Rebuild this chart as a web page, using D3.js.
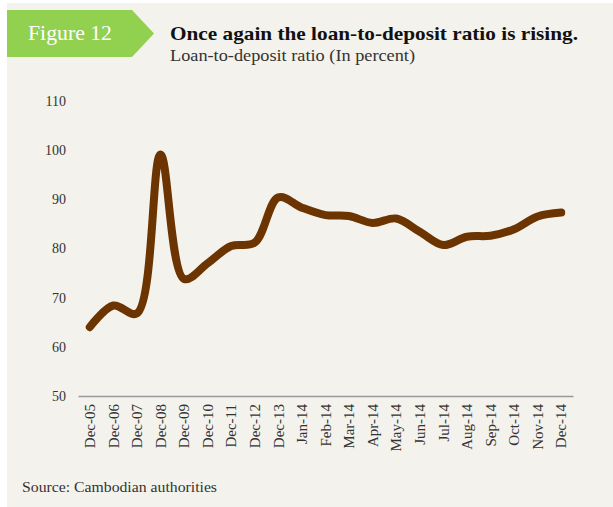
<!DOCTYPE html>
<html><head><meta charset="utf-8">
<script src="https://cdn.jsdelivr.net/npm/d3@7"></script>
<style>body{margin:0;background:#fff}svg{display:block}</style>
</head><body>
<script>
const categories = ["Dec-05","Dec-06","Dec-07","Dec-08","Dec-09","Dec-10","Dec-11","Dec-12","Dec-13","Jan-14","Feb-14","Mar-14","Apr-14","May-14","Jun-14","Jul-14","Aug-14","Sep-14","Oct-14","Nov-14","Dec-14"];
const ratio = [64.0,68.4,66.8,99.1,73.8,77.0,80.5,81.2,90.4,88.3,86.8,86.6,85.2,86.1,83.4,80.7,82.4,82.6,83.9,86.5,87.3];
const yTicks = [50,60,70,80,90,100,110];
const title = "Once again the loan-to-deposit ratio is rising.";
const subtitle = "Loan-to-deposit ratio (In percent)";
const figLabel = "Figure 12";
const source = "Source: Cambodian authorities";

const W = 613, H = 507;
const svg = d3.select("body").append("svg").attr("width", W).attr("height", H);
const font = "'Liberation Serif', 'DejaVu Serif', serif";
svg.append("rect").attr("x",7).attr("y",3).attr("width",W-7).attr("height",H-3).attr("fill","#f3f2ec");

// green tab
svg.append("path").attr("d","M7,10 L132,10 L154,33.5 L132,57 L7,57 Z").attr("fill","#92d050");
svg.append("text").attr("x",28).attr("y",40).attr("fill","#fff").attr("font-family",font).attr("font-size",20)
  .attr("textLength",84).attr("lengthAdjust","spacingAndGlyphs").text(figLabel);
svg.append("text").attr("x",170).attr("y",40).attr("fill","#111").attr("font-family",font).attr("font-size",19.5).attr("font-weight","bold")
  .attr("textLength",408).attr("lengthAdjust","spacingAndGlyphs").text(title);
svg.append("text").attr("x",170).attr("y",61).attr("fill","#333").attr("font-family",font).attr("font-size",16)
  .attr("textLength",245).attr("lengthAdjust","spacingAndGlyphs").text(subtitle);

const x = d3.scaleBand().domain(categories).range([78,573]);
const y = d3.scaleLinear().domain([50,110]).range([396,101]);

const yAxis = svg.append("g").attr("transform","translate(66,0)")
  .call(d3.axisLeft(y).tickValues(yTicks).tickSize(0).tickPadding(0));
yAxis.select(".domain").remove();
yAxis.selectAll("text").attr("font-family",font).attr("font-size",14).attr("fill","#333");

const xAxis = svg.append("g").attr("transform","translate(0,396)")
  .call(d3.axisBottom(x).tickSize(0).tickSizeOuter(0).tickPadding(0));
xAxis.select(".domain").attr("stroke","#999").attr("stroke-width",1.5);
xAxis.selectAll("text").attr("font-family",font).attr("font-size",15).attr("fill","#333")
  .attr("text-anchor","end").attr("dy","0.35em")
  .attr("transform","translate(0,8) rotate(-90)");

const line = d3.line().x((d,i)=>x(categories[i])+x.bandwidth()/2).y(d=>y(d)).curve(d3.curveCatmullRom.alpha(0.5));
svg.append("path").datum(ratio).attr("d",line).attr("fill","none").attr("stroke","#6b3400")
  .attr("stroke-width",8).attr("stroke-linecap","round").attr("stroke-linejoin","round");

svg.append("text").attr("x",22).attr("y",492).attr("fill","#333").attr("font-family",font).attr("font-size",15)
  .attr("textLength",195).attr("lengthAdjust","spacingAndGlyphs").text(source);
</script>
</body></html>
